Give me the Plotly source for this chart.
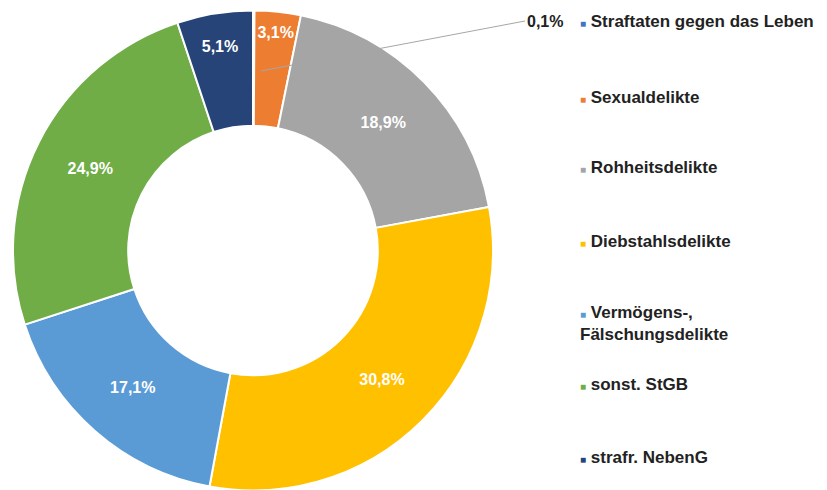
import plotly.graph_objs as go

# Anteile je Deliktsgruppe (in %)
categories = ['Straftaten gegen das Leben', 'Sexualdelikte', 'Rohheitsdelikte',
              'Diebstahlsdelikte', 'Vermögens-,<br>Fälschungsdelikte', 'sonst. StGB',
              'strafr. NebenG']
shares = [0.1, 3.1, 18.9, 30.8, 17.1, 24.9, 5.1]
colors = ['#4472C4', '#ED7D31', '#A5A5A5', '#FFC000', '#5B9BD5', '#70AD47', '#264478']
legend_y = [13, 90, 159, 233, 315, 376, 449]

W, H = 827, 490
ML, MT = 5, 2

# labels: the tiny first slice gets an outside label via annotation
texts = ['' if i == 0 else f'{v:.1f}'.replace('.', ',') + '%' for i, v in enumerate(shares)]

fig = go.Figure(go.Pie(
    values=shares,
    labels=categories,
    text=texts,
    textinfo='text',
    textposition='inside',
    insidetextorientation='horizontal',
    texttemplate='<b>%{text}</b>',
    textfont=dict(family='Liberation Sans', size=16, color='white'),
    hole=0.52,
    sort=False,
    direction='clockwise',
    rotation=0,
    marker=dict(colors=colors, line=dict(color='white', width=2)),
    domain=dict(x=[0, 480 / (W - ML)], y=[(H - MT - 481) / (H - MT), 1]),
    showlegend=False,
    hoverinfo='label+percent',
))

def px(x):
    return (x - ML) / (W - ML)

def py(y):
    return 1 - (y - MT) / (H - MT)

annotations = []
# leader line and 0,1% label
annotations.append(dict(
    x=px(253), y=py(63), xref='paper', yref='paper',
    text='<b>0,1%</b>', showarrow=True, arrowhead=0, arrowwidth=1, arrowcolor='#A6A6A6',
    ax=264, ay=-50, xanchor='left', yanchor='middle',
    font=dict(family='Liberation Sans', size=16, color='#222222'),
))

# hand-made legend with small coloured squares
for name, col, ly in zip(categories, colors, legend_y):
    annotations.append(dict(
        x=px(570), y=py(ly), xref='paper', yref='paper',
        text=f'<span style="color:{col}; font-size:10px">■</span> <b>{name}</b>',
        showarrow=False, xanchor='left', yanchor='middle', align='left',
        font=dict(family='Liberation Sans', size=17, color='#222222'),
    ))

fig.update_layout(
    width=W, height=H,
    margin=dict(l=ML, r=0, t=MT, b=0),
    paper_bgcolor='white',
    plot_bgcolor='white',
    separators=',.',
    annotations=annotations,
)

fig.write_html("out.html")
